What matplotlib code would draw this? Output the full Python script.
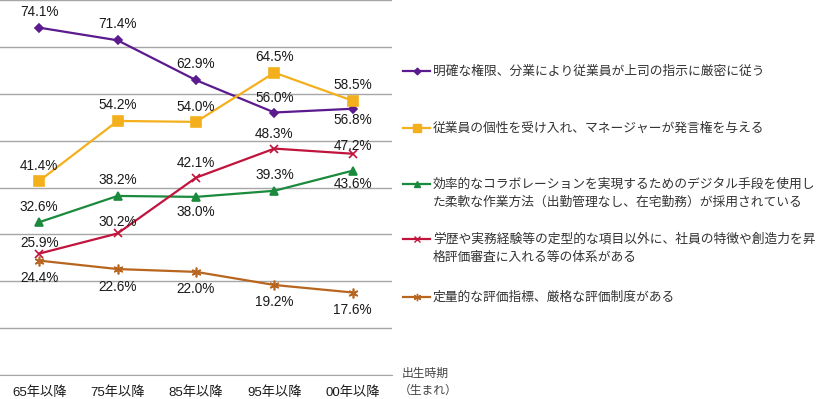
import matplotlib
matplotlib.use("Agg")
import matplotlib.pyplot as plt
from matplotlib.lines import Line2D

plt.rcParams["font.family"] = ["Liberation Sans", "Noto Sans CJK JP", "DejaVu Sans"]

# data
periods = ["65年以降", "75年以降", "85年以降", "95年以降", "00年以降"]

strict_hierarchy = [74.1, 71.4, 62.9, 56.0, 56.8]
individuality = [41.4, 54.2, 54.0, 64.5, 58.5]
digital_flex = [32.6, 38.2, 38.0, 39.3, 43.6]
beyond_resume = [25.9, 30.2, 42.1, 48.3, 47.2]
quantitative_eval = [24.4, 22.6, 22.0, 19.2, 17.6]

labels = [
    "明確な権限、分業により従業員が上司の指示に厳密に従う",
    "従業員の個性を受け入れ、マネージャーが発言権を与える",
    "効率的なコラボレーションを実現するためのデジタル手段を使用し\nた柔軟な作業方法（出勤管理なし、在宅勤務）が採用されている",
    "学歴や実務経験等の定型的な項目以外に、社員の特徴や創造力を昇\n格評価審査に入れる等の体系がある",
    "定量的な評価指標、厳格な評価制度がある",
]

series = [strict_hierarchy, individuality, digital_flex, beyond_resume, quantitative_eval]

# styling
colors = ["#5b1a8e", "#f4b01c", "#1a8a3c", "#c0143c", "#b8651f"]
markers = ["D", "s", "^", "x", (6, 2, 0)]
msizes = [4.5, 7, 6, 6, 7]
# vertical offset of each value label, in pixels (+ above, - below)
label_dy = [
    [16, 16, 16, 15, -11],
    [15, 16, 15, 16, 16],
    [15, 16, -15, 16, -13],
    [11, 11, 15, 15, 8],
    [-17, -18, -17, -17, -17],
]
legend_y = [71, 128, 184, 239, 297]  # pixel rows from the top

W, H = 824, 399
fig = plt.figure(figsize=(W / 100, H / 100), dpi=100)
ax = fig.add_axes([0, 24 / H, 392 / W, 375 / H])

x = list(range(len(periods)))
for vals, col, mk, ms, dys in zip(series, colors, markers, msizes, label_dy):
    ax.plot(x, vals, color=col, lw=1.6, marker=mk, markersize=ms,
            markerfacecolor=col, markeredgecolor=col, markeredgewidth=1.2,
            zorder=3)
    for xi, v, dy in zip(x, vals, dys):
        ax.annotate(f"{v:.1f}%", (xi, v), xytext=(0, dy),
                    textcoords="offset pixels", ha="center", va="center",
                    fontsize=9.8, color="#1a1a1a", zorder=4)

ax.set_xlim(-0.5, len(periods) - 0.5)
ax.set_ylim(0, 80)
ax.set_yticks(range(0, 81, 10))
ax.yaxis.grid(True, color="#a6a6a6", lw=1.0)
ax.set_axisbelow(True)
ax.tick_params(axis="y", left=False, labelleft=False)
ax.tick_params(axis="x", length=0, pad=8)
ax.set_xticks(x)
ax.set_xticklabels(periods, fontsize=9.5, color="#1a1a1a")
for s in ["left", "right", "top"]:
    ax.spines[s].set_visible(False)
ax.spines["bottom"].set_color("#a6a6a6")

# manual legend on the right
for lab, col, mk, ms, ly in zip(labels, colors, markers, msizes, legend_y):
    yf = 1 - ly / H
    fig.add_artist(Line2D([403 / W, 430 / W], [yf, yf], color=col, lw=1.6,
                          transform=fig.transFigure))
    fig.add_artist(Line2D([416.5 / W], [yf], color=col, marker=mk,
                          markersize=ms * 0.75, markerfacecolor=col,
                          markeredgecolor=col, transform=fig.transFigure))
    for i, line in enumerate(lab.split("\n")):
        fig.text(433 / W, 1 - (ly + i * 18.5) / H, line, fontsize=9.2,
                 color="#333333", va="center", ha="left",
                 family=["Noto Sans CJK JP", "DejaVu Sans"])

fig.text(402 / W, 1 - 373 / H, "出生時期", fontsize=8.5, color="#444444",
         va="center", family=["Noto Sans CJK JP", "DejaVu Sans"])
fig.text(399 / W, 1 - 390 / H, "（生まれ）", fontsize=8.5, color="#444444",
         va="center", family=["Noto Sans CJK JP", "DejaVu Sans"])

fig.savefig("out.png", dpi=100)
